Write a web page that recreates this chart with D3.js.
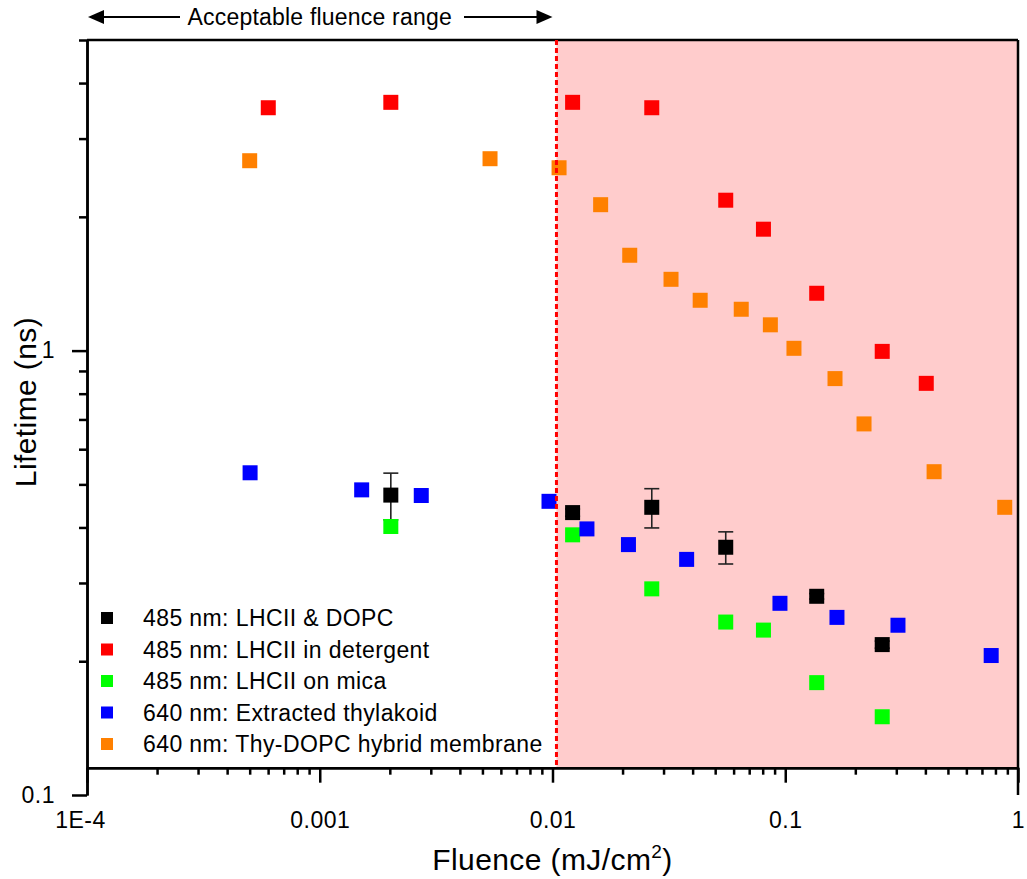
<!DOCTYPE html>
<html>
<head>
<meta charset="utf-8">
<script src="https://cdn.jsdelivr.net/npm/d3@7"></script>
<style>
    body { margin: 0; background: #fff; }
    text { font-family: "Liberation Sans", Arial, sans-serif; fill: #000; }
    .axis path, .axis line { stroke: #000; stroke-width: 2.5; }
    .axis text { font-size: 23px; font-family: "Liberation Sans", Arial, sans-serif; letter-spacing: 0.5px; }
</style>
</head>
<body>
<svg width="1027" height="879"></svg>
<script>

// **** Data (fluence in mJ/cm2, lifetime in ns) ****

var seriesNames = [
    '485 nm: LHCII & DOPC',
    '485 nm: LHCII in detergent',
    '485 nm: LHCII on mica',
    '640 nm: Extracted thylakoid',
    '640 nm: Thy-DOPC hybrid membrane'
];
var seriesColors = ['#000000', '#ff0000', '#00ff00', '#0000ff', '#ff8000'];

var dopcFluence  = [0.00202, 0.0122, 0.0267, 0.0555, 0.1365, 0.261];
var dopcLifetime = [0.473, 0.432, 0.444, 0.361, 0.280, 0.218];
var dopcError    = [0.057, 0.008, 0.045, 0.030, 0.004, 0.004];

var detFluence  = [0.000601, 0.00202, 0.0122, 0.0267, 0.0555, 0.0806, 0.1365, 0.261, 0.4035];
var detLifetime = [3.52, 3.62, 3.62, 3.52, 2.18, 1.876, 1.346, 0.996, 0.844];

var micaFluence  = [0.00202, 0.0122, 0.0267, 0.0555, 0.0806, 0.1365, 0.261];
var micaLifetime = [0.402, 0.385, 0.291, 0.245, 0.235, 0.179, 0.150];

var thyFluence  = [0.000502, 0.001514, 0.00273, 0.00966, 0.01406, 0.0212, 0.0377, 0.0949, 0.1668, 0.305, 0.767];
var thyLifetime = [0.531, 0.486, 0.472, 0.458, 0.397, 0.366, 0.339, 0.270, 0.251, 0.241, 0.206];

var hybFluence  = [0.0005, 0.00539, 0.01067, 0.0161, 0.02147, 0.0323, 0.0431, 0.0647, 0.0863, 0.109, 0.1636, 0.218, 0.436, 0.877];
var hybLifetime = [2.675, 2.703, 2.579, 2.13, 1.639, 1.447, 1.298, 1.239, 1.143, 1.012, 0.865, 0.684, 0.534, 0.444];

var xMajorTicks = [1e-4, 1e-3, 1e-2, 1e-1, 1];
var xTickLabels = ['1E-4', '0.001', '0.01', '0.1', '1'];
var yMajorTicks = [0.1, 1];
var yTickLabels = ['0.1', '1'];

var fluenceLimit = 0.0104;     // acceptable fluence boundary
var xAxisAt = 0.1152;          // lifetime value where the x axis sits

// **** Scales ****

var xScale = d3.scaleLog().domain([1e-4, 1]).range([87, 1018]);
var yScale = d3.scaleLog().domain([0.1, 5]).range([795, 40]);

function minorTicks(lo, hi) {
    var out = [];
    for (var p = lo; p < hi; p++) {
        for (var m = 2; m <= 9; m++) out.push(m * Math.pow(10, p));
    }
    return out;
}

var svg = d3.select('svg');
var xAxisY = yScale(xAxisAt);

// **** Shaded region and annotation ****

svg.append('rect')
    .attr('x', xScale(fluenceLimit))
    .attr('y', yScale(5))
    .attr('width', xScale(1) - xScale(fluenceLimit))
    .attr('height', xAxisY - yScale(5))
    .attr('fill', '#ffcccc');

var arrowY = 17;
var annot = svg.append('g');
annot.append('text')
    .attr('x', xScale(0.001))
    .attr('y', arrowY)
    .attr('dy', '0.35em')
    .attr('text-anchor', 'middle')
    .style('font-size', '23px')
    .style('letter-spacing', '0.2px')
    .text('Acceptable fluence range');

function arrow(tipX, tailX) {
    var dir = tipX < tailX ? 1 : -1;
    annot.append('line')
        .attr('x1', tailX).attr('y1', arrowY)
        .attr('x2', tipX + dir * 12).attr('y2', arrowY)
        .attr('stroke', '#000').attr('stroke-width', 2);
    annot.append('path')
        .attr('d', 'M' + tipX + ',' + arrowY + 'L' + (tipX + dir * 16) + ',' + (arrowY - 7) +
              'L' + (tipX + dir * 16) + ',' + (arrowY + 7) + 'Z')
        .attr('fill', '#000');
}
arrow(xScale(1e-4) + 1, 180);
arrow(xScale(0.01), 464);

// **** Axes ****

svg.append('g').attr('class', 'axis')
    .attr('transform', 'translate(0,' + xAxisY + ')')
    .call(d3.axisBottom(xScale).tickValues(minorTicks(-4, 0)).tickSize(7).tickSizeOuter(0).tickFormat(''));

var xAxis = svg.append('g').attr('class', 'axis')
    .attr('transform', 'translate(0,' + xAxisY + ')')
    .call(d3.axisBottom(xScale).tickValues(xMajorTicks).tickSize(15).tickSizeOuter(0)
        .tickFormat(function(d, i) { return xTickLabels[i]; }));
xAxis.selectAll('text').attr('y', 44).attr('dx', function(d, i) { return i === 0 ? -7 : 0; });

svg.append('g').attr('class', 'axis')
    .attr('transform', 'translate(' + xScale(1e-4) + ',0)')
    .call(d3.axisLeft(yScale).tickValues(minorTicks(-1, 0).concat([2, 3, 4, 5])).tickSize(8).tickSizeOuter(0).tickFormat(''));

var yAxis = svg.append('g').attr('class', 'axis')
    .attr('transform', 'translate(' + xScale(1e-4) + ',0)')
    .call(d3.axisLeft(yScale).tickValues(yMajorTicks).tickSize(15).tickSizeOuter(0)
        .tickFormat(function(d, i) { return yTickLabels[i]; }));
yAxis.selectAll('text').attr('x', -32);

// top and right frame lines
svg.append('line')
    .attr('x1', xScale(1e-4)).attr('x2', xScale(1))
    .attr('y1', yScale(5)).attr('y2', yScale(5))
    .attr('stroke', '#000').attr('stroke-width', 2.5);
svg.append('line')
    .attr('x1', xScale(1)).attr('x2', xScale(1))
    .attr('y1', yScale(5)).attr('y2', yScale(0.1))
    .attr('stroke', '#000').attr('stroke-width', 2.5);

// axis titles
var xTitle = svg.append('text')
    .attr('x', (xScale(1e-4) + xScale(1)) / 2)
    .attr('y', 870)
    .attr('text-anchor', 'middle')
    .style('font-size', '30px')
    .style('letter-spacing', '0.4px');
xTitle.append('tspan').text('Fluence (mJ/cm');
xTitle.append('tspan').attr('dy', -12).style('font-size', '19px').text('2');
xTitle.append('tspan').attr('dy', 12).text(')');

svg.append('text')
    .attr('transform', 'translate(36,402) rotate(-90)')
    .attr('text-anchor', 'middle')
    .style('font-size', '30px')
    .style('letter-spacing', '0.4px')
    .text('Lifetime (ns)');

// **** Data points ****

var markerSize = 15;
var series = [
    { x: dopcFluence, y: dopcLifetime, err: dopcError },
    { x: detFluence, y: detLifetime },
    { x: micaFluence, y: micaLifetime },
    { x: thyFluence, y: thyLifetime },
    { x: hybFluence, y: hybLifetime }
];

series.forEach(function(s, si) {
    var pts = s.x.map(function(f, i) {
        return { f: f, t: s.y[i], e: s.err ? s.err[i] : 0 };
    });
    var g = svg.append('g');

    if (s.err) {
        var eb = g.selectAll('.err').data(pts).enter().append('g')
            .attr('stroke', '#222').attr('stroke-width', 1.6);
        eb.append('line')
            .attr('x1', function(d) { return xScale(d.f); })
            .attr('x2', function(d) { return xScale(d.f); })
            .attr('y1', function(d) { return yScale(d.t + d.e); })
            .attr('y2', function(d) { return yScale(d.t - d.e); });
        [1, -1].forEach(function(sign) {
            eb.append('line')
                .attr('x1', function(d) { return xScale(d.f) - 7.5; })
                .attr('x2', function(d) { return xScale(d.f) + 7.5; })
                .attr('y1', function(d) { return yScale(d.t + sign * d.e); })
                .attr('y2', function(d) { return yScale(d.t + sign * d.e); });
        });
    }

    g.selectAll('rect').data(pts).enter().append('rect')
        .attr('x', function(d) { return xScale(d.f) - markerSize / 2; })
        .attr('y', function(d) { return yScale(d.t) - markerSize / 2; })
        .attr('width', markerSize)
        .attr('height', markerSize)
        .attr('fill', seriesColors[si]);
});

// dashed boundary line
svg.append('line')
    .attr('x1', xScale(fluenceLimit)).attr('x2', xScale(fluenceLimit))
    .attr('y1', yScale(5)).attr('y2', xAxisY)
    .attr('stroke', '#ff0000').attr('stroke-width', 3)
    .attr('stroke-dasharray', '5,3');

// **** Legend ****

var legend = svg.selectAll('.legend')
    .data(seriesNames)
    .enter()
    .append('g')
    .attr('transform', function(d, i) { return 'translate(107,' + (618 + i * 31.5) + ')'; });

legend.append('rect')
    .attr('x', -6).attr('y', -6)
    .attr('width', 12).attr('height', 12)
    .attr('fill', function(d, i) { return seriesColors[i]; });

legend.append('text')
    .attr('x', 36)
    .attr('dy', '0.35em')
    .style('font-size', '23px')
    .style('letter-spacing', '0.4px')
    .text(function(d) { return d; });

</script>
</body>
</html>
